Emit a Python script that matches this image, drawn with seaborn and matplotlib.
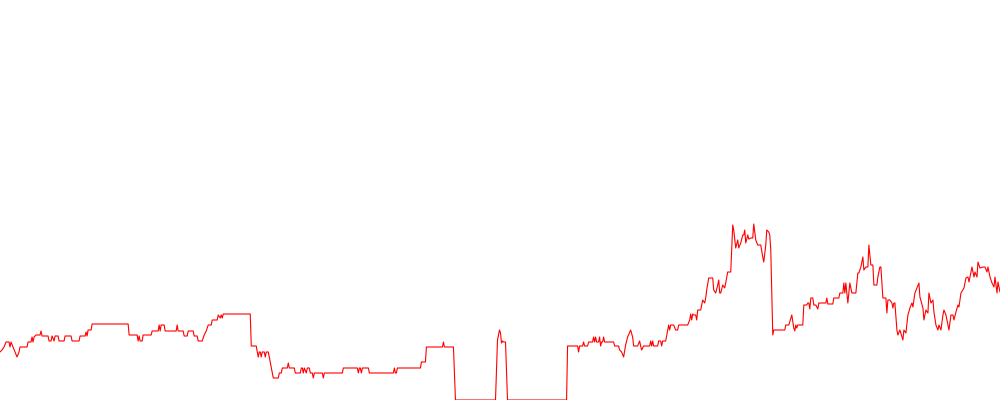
# -*- coding: utf-8 -*-
"""
Red step-like series on a bare white canvas (no axes, no text)
"""
import matplotlib
matplotlib.use("Agg")
import matplotlib.pyplot as plt
import seaborn as sns

sns.set_style("white")

LINE = "#FF0000"

days = [
    0, 2, 4, 6, 9, 10, 11, 13, 15, 17, 19, 20, 27, 28, 31, 32, 33, 34, 36, 40,
    41, 42, 48, 49, 51, 52, 54, 55, 58, 59, 64, 65, 71, 72, 79, 80, 85, 86, 87, 88,
    91, 92, 128, 129, 137, 138, 139, 140, 142, 143, 151, 152, 158, 159, 160, 161, 164, 165, 176, 177,
    178, 183, 184, 187, 188, 193, 194, 197, 198, 202, 204, 206, 208, 211, 212, 217, 218, 220, 221, 222,
    223, 250, 251, 256, 257, 258, 259, 260, 261, 262, 264, 265, 266, 268, 269, 273, 278, 279, 281, 282,
    287, 288, 289, 294, 295, 300, 301, 302, 303, 304, 306, 307, 309, 310, 312, 313, 314, 322, 323, 324,
    342, 343, 357, 358, 359, 360, 361, 362, 368, 369, 393, 394, 395, 396, 397, 420, 421, 425, 426, 442,
    443, 444, 453, 455, 495, 497, 499, 500, 501, 502, 503, 505, 507, 566, 567, 577, 578, 579, 582, 583,
    584, 587, 588, 592, 593, 594, 595, 596, 598, 599, 600, 601, 602, 603, 604, 613, 614, 618, 619, 621,
    623, 625, 627, 630, 632, 633, 637, 639, 640, 641, 643, 649, 650, 651, 652, 653, 657, 658, 660, 661,
    662, 665, 667, 668, 669, 670, 673, 675, 677, 678, 687, 689, 690, 691, 692, 693, 695, 696, 697, 700,
    702, 704, 705, 706, 708, 712, 713, 715, 717, 718, 719, 720, 722, 724, 726, 727, 730, 732, 733, 735,
    737, 738, 740, 742, 743, 744, 745, 747, 748, 750, 752, 753, 755, 757, 760, 762, 763, 765, 766, 768,
    769, 770, 772, 773, 784, 785, 788, 791, 793, 794, 795, 796, 797, 802, 803, 806, 807, 808, 809, 810,
    812, 813, 815, 817, 818, 825, 826, 827, 832, 833, 838, 839, 842, 843, 844, 845, 847, 849, 851, 855,
    857, 858, 860, 862, 863, 865, 867, 868, 870, 872, 873, 876, 877, 879, 880, 882, 885, 886, 887, 889,
    891, 892, 893, 894, 896, 897, 899, 902, 903, 905, 907, 909, 911, 912, 914, 916, 918, 919, 922, 923,
    925, 927, 928, 930, 932, 933, 935, 937, 938, 940, 942, 943, 945, 947, 948, 950, 952, 953, 955, 957,
    958, 960, 963, 965, 967, 968, 971, 973, 974, 976, 977, 979, 982, 984, 986, 987, 989, 991, 993, 994,
    996, 997, 999,
]
values = [
    48, 50, 53, 58, 58, 53, 58, 53, 48, 43, 48, 53, 53, 58, 58, 63, 58, 63, 65, 65,
    69, 64, 64, 59, 59, 64, 59, 64, 64, 59, 59, 64, 64, 59, 59, 64, 64, 68, 64, 70,
    70, 76, 76, 65, 65, 59, 64, 59, 59, 65, 65, 69, 69, 75, 69, 75, 75, 69, 69, 75,
    69, 69, 64, 64, 69, 69, 64, 64, 59, 59, 65, 69, 75, 75, 80, 80, 85, 82, 85, 82,
    86, 86, 54, 54, 48, 43, 48, 48, 43, 48, 48, 43, 48, 48, 43, 22, 22, 27, 27, 32,
    32, 37, 32, 32, 27, 27, 32, 32, 27, 32, 27, 32, 32, 27, 27, 22, 27, 27, 22, 27,
    27, 32, 32, 27, 32, 32, 27, 32, 32, 27, 27, 32, 27, 27, 32, 32, 38, 38, 53, 53,
    58, 53, 53, 0, 0, 60, 70, 67, 57, 59, 58, 58, 0, 0, 54, 54, 48, 54, 54, 58,
    54, 54, 58, 58, 63, 58, 63, 58, 58, 63, 54, 58, 58, 63, 58, 58, 54, 54, 50, 48,
    43, 55, 63, 70, 63, 54, 54, 59, 54, 50, 54, 54, 59, 54, 59, 54, 54, 59, 59, 54,
    59, 59, 70, 75, 70, 75, 75, 70, 70, 75, 75, 80, 86, 80, 86, 85, 85, 80, 90, 90,
    100, 97, 102, 110, 122, 122, 110, 107, 115, 120, 107, 107, 115, 112, 123, 128, 128, 175, 170, 152,
    160, 152, 157, 165, 165, 170, 157, 165, 161, 162, 162, 176, 160, 155, 155, 143, 138, 155, 170, 168,
    165, 150, 65, 70, 70, 75, 75, 85, 72, 69, 75, 72, 75, 75, 95, 95, 97, 97, 91, 102,
    102, 95, 95, 91, 97, 97, 102, 96, 96, 102, 102, 107, 107, 117, 107, 117, 97, 117, 107, 107,
    127, 127, 133, 143, 130, 133, 133, 155, 135, 135, 115, 115, 123, 133, 133, 102, 102, 87, 100, 100,
    97, 92, 97, 97, 70, 65, 70, 60, 70, 67, 85, 92, 97, 93, 107, 112, 117, 103, 92, 80,
    90, 87, 107, 97, 100, 88, 75, 70, 75, 70, 85, 90, 85, 75, 70, 85, 85, 80, 88, 95,
    93, 107, 112, 122, 123, 118, 133, 123, 128, 123, 138, 132, 133, 133, 128, 133, 123, 117, 113, 123,
    107, 118, 108,
]

fig = plt.figure(figsize=(10, 4), dpi=100, facecolor="white")
ax = fig.add_axes([0, 0, 1, 1])

sns.lineplot(x=days, y=values, color=LINE, linewidth=0.8, ax=ax)

ax.set_xlim(0, 999)
ax.set_ylim(0, 400)
ax.axis("off")

fig.savefig("out.png", dpi=100, facecolor="white")
plt.close(fig)
